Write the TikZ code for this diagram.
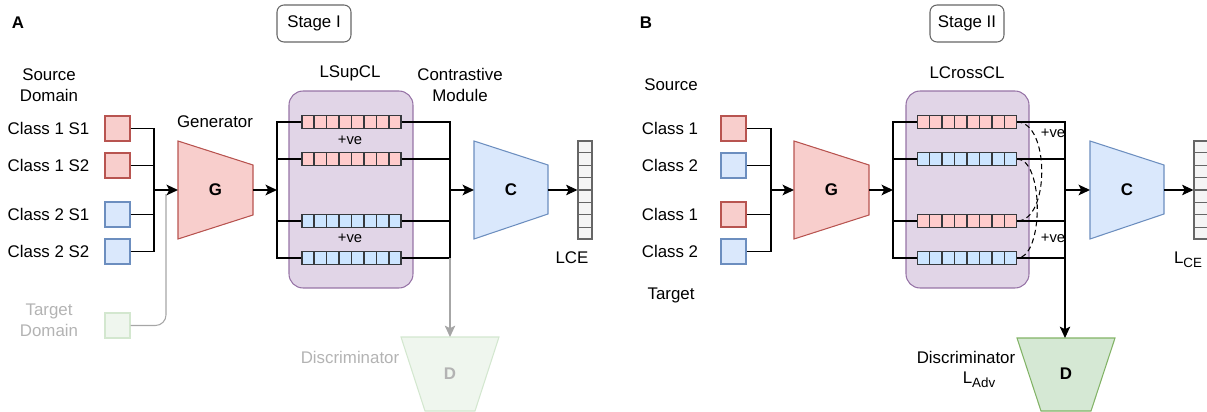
\documentclass[tikz,border=0pt]{standalone}
\usepackage{fontspec}
\setmainfont{Liberation Sans}
\usetikzlibrary{arrows.meta,calc,positioning}

\definecolor{fillred}{HTML}{F8CECC}
\definecolor{linered}{HTML}{B85450}
\definecolor{fillblue}{HTML}{DAE8FC}
\definecolor{lineblue}{HTML}{6C8EBF}
\definecolor{fillgreen}{HTML}{D5E8D4}
\definecolor{linegreen}{HTML}{82B366}
\definecolor{fillpale}{HTML}{EFF6EE}
\definecolor{linepale}{HTML}{D3E7CF}
\definecolor{fillpurple}{HTML}{E1D5E7}
\definecolor{linepurple}{HTML}{9673A6}
\definecolor{cellred}{HTML}{FFCCCC}
\definecolor{cellblue}{HTML}{CCE5FF}
\definecolor{celledge}{HTML}{36393D}
\definecolor{outfill}{HTML}{F5F5F5}
\definecolor{outline}{HTML}{666666}
\definecolor{fadetext}{HTML}{B3B3B3}

\begin{document}
\begin{tikzpicture}
[x=0.02cm,y=-0.02cm,
 font=\fontsize{9.6}{12}\selectfont,
 lbl/.style={inner sep=0pt,align=center},
 faded/.style={lbl,text=fadetext},
 heading/.style={inner sep=0pt,font=\fontsize{9.6}{12}\selectfont\bfseries},
 stagebox/.style={draw=outline,rounded corners=4pt,line width=0.6pt,minimum width=1.48cm,minimum height=0.74cm,inner sep=0pt},
 clsbox/.style={draw,line width=0.6pt,minimum size=0.5cm,inner sep=0pt},
 clsfade/.style={clsbox,fill=fillpale,draw=linepale},
 memory/.style={draw=linepurple,fill=fillpurple,rounded corners=0.28cm,line width=0.6pt,minimum height=3.94cm,inner sep=0pt},
 vecbox/.style={draw=celledge,line width=0.6pt,minimum width=1.98cm,minimum height=0.25cm,inner sep=0pt},
 vecline/.style={draw=celledge,line width=0.6pt},
 outvec/.style={draw=outline,fill=outfill,line width=0.6pt,minimum width=0.28cm,minimum height=1.96cm,inner sep=0pt},
 posnote/.style={inner sep=0pt,font=\fontsize{8.4}{10}\selectfont},
 wire/.style={draw=black,line width=0.6pt},
 fadewire/.style={draw=black!35,line width=0.6pt},
 arr/.style={wire,line width=1.1pt,-{Stealth[length=6.5pt,width=6pt,inset=1.5pt]}},
 thinarr/.style={wire,-{Stealth[length=6.5pt,width=6pt,inset=1.5pt]}},
 fadearr/.style={fadewire,-{Stealth[length=6.5pt,width=6pt,inset=1.5pt]}},
 pair/.style={draw=black,line width=0.6pt,dash pattern=on 3pt off 2pt},
 genshape/.style={draw=linered,fill=fillred,line width=0.6pt},
 clsshape/.style={draw=lineblue,fill=fillblue,line width=0.6pt},
 disshape/.style={draw=linegreen,fill=fillgreen,line width=0.6pt},
 disfade/.style={draw=linepale,fill=fillpale,line width=0.6pt}]
\useasboundingbox (0,0) rectangle (1207,412);

%%%% stage I
\node[heading] (labA) at (18,23) {A};
\node[stagebox] (stA) at (314,23.5) {Stage I};
\node[lbl] (srcA) at (49,85) {Source\\Domain};
\foreach \n/\y/\t/\c in {1/128.5/Class 1 S1/red,2/165.5/Class 1 S2/red,3/214.5/Class 2 S1/blue,4/251.5/Class 2 S2/blue}{
  \node[lbl] (tA\n) at (48.5,\y) {\t};
  \node[clsbox,fill=fill\c,draw=line\c] (cA\n) at (117.5,\y) {};
}
\node[faded] (trgA) at (49,320) {Target\\Domain};
\node[clsfade] (cA5) at (117.5,325.5) {};

% generator
\draw[genshape] (178,141) -- (253,165) -- (253,215) -- (178,239) -- cycle;
\node[heading] (gA) at (215.5,190) {G};
\node[lbl] (genA) at (215,122) {Generator};
\coordinate (gAin) at (178,190);
\coordinate (gAout) at (253,190);
\coordinate (mA) at (154,190);
\coordinate (tinA) at (166,194);

% contrastive memory
\node[memory,minimum width=2.48cm] (memA) at (351,189.5) {};
\node[lbl] (lsup) at (350,73) {LSupCL};
\foreach \n/\y/\c in {1/122/red,2/159/red,3/221/blue,4/258/blue}{
  \node[vecbox,fill=cell\c] (vA\n) at (351.5,\y) {};
  \foreach \k in {1,...,7}
    \draw[vecline] ($(vA\n.south west)!\k/8!(vA\n.south east)$) -- ($(vA\n.north west)!\k/8!(vA\n.north east)$);
}
\node[posnote] (pA1) at (350,140) {+ve};
\node[posnote] (pA2) at (350,238) {+ve};
\node[lbl] (modA) at (460,85) {Contrastive\\Module};
\coordinate (sA) at (277,190);
\coordinate (jA) at (450,190);

% classifier
\draw[clsshape] (474,141) -- (548,165) -- (548,214) -- (474,239) -- cycle;
\node[heading] (cA) at (511,190) {C};
\coordinate (cAin) at (474,190);
\coordinate (cAout) at (548,190);
\node[outvec] (oA) at (585,190) {};
\foreach \k in {1,...,7}
  \draw[vecline,draw=outline] ($(oA.north west)!\k/8!(oA.south west)$) -- ($(oA.north east)!\k/8!(oA.south east)$);
\node[lbl] (lceA) at (572,258) {LCE};

% discriminator (unused here)
\draw[disfade] (401,337) -- (499,337) -- (475,411) -- (425,411) -- cycle;
\node[heading,text=fadetext] (dA) at (450,374) {D};
\node[faded] (disA) at (350,357) {Discriminator};
\coordinate (dAin) at (450,337);

\foreach \n in {1,...,4} \draw[wire] (cA\n.east) -| (mA);
\draw[fadewire,rounded corners=6pt] (cA5.east) -| (tinA);
\draw[arr] (mA) -- (gAin);
\draw[arr] (gAout) -- (sA);
\foreach \n in {1,...,4} \draw[wire] (sA) |- (vA\n.west);
\foreach \n in {1,...,4} \draw[wire] (vA\n.east) -| (jA);
\draw[arr] (jA) -- (cAin);
\draw[thinarr] (cAout) -- (oA.west);
\draw[fadearr] (jA |- vA4.east) -- (dAin);

%%%% stage II
\node[heading] (labB) at (646,23) {B};
\node[stagebox] (stB) at (967,23.5) {Stage II};
\node[lbl] (srcB) at (671,85) {Source};
\node[lbl] (trgB) at (671,295) {Target};
\foreach \n/\y/\t/\c in {1/128.5/Class 1/red,2/165.5/Class 2/blue,3/214.5/Class 1/red,4/251.5/Class 2/blue}{
  \node[lbl] (tB\n) at (670,\y) {\t};
  \node[clsbox,fill=fill\c,draw=line\c] (cB\n) at (733.5,\y) {};
}

% generator
\draw[genshape] (794,141) -- (869,165) -- (869,215) -- (794,239) -- cycle;
\node[heading] (gB) at (831.5,190) {G};
\coordinate (gBin) at (794,190);
\coordinate (gBout) at (869,190);
\coordinate (mB) at (771,190);

% cross-domain memory
\node[memory,minimum width=2.46cm] (memB) at (967.5,189.5) {};
\node[lbl] (lcross) at (967,73) {LCrossCL};
\foreach \n/\y/\c in {1/122/red,2/159/blue,3/221/red,4/258/blue}{
  \node[vecbox,fill=cell\c] (vB\n) at (967,\y) {};
  \foreach \k in {1,...,7}
    \draw[vecline] ($(vB\n.south west)!\k/8!(vB\n.south east)$) -- ($(vB\n.north west)!\k/8!(vB\n.north east)$);
}
\coordinate (sB) at (893,190);
\coordinate (jB) at (1065,190);

% classifier
\draw[clsshape] (1090,141) -- (1164,165) -- (1164,214) -- (1090,239) -- cycle;
\node[heading] (cB) at (1127,190) {C};
\coordinate (cBin) at (1090,190);
\coordinate (cBout) at (1164,190);
\node[outvec] (oB) at (1201,190) {};
\foreach \k in {1,...,7}
  \draw[vecline,draw=outline] ($(oB.north west)!\k/8!(oB.south west)$) -- ($(oB.north east)!\k/8!(oB.south east)$);
\node[lbl] (lceB) at (1188,260) {L\raisebox{-0.45ex}{\fontsize{7.6}{9}\selectfont CE}};

% discriminator
\draw[disshape] (1017,338) -- (1115,338) -- (1091,411) -- (1041,411) -- cycle;
\node[heading] (dB) at (1066,374) {D};
\node[lbl] (disB) at (966,357) {Discriminator};
\node[lbl] (ladv) at (979,380) {L\raisebox{-0.45ex}{\fontsize{7.6}{9}\selectfont Adv}};
\coordinate (dBin) at (1065,338);

\foreach \n in {1,...,4} \draw[wire] (cB\n.east) -| (mB);
\draw[arr] (mB) -- (gBin);
\draw[arr] (gBout) -- (sB);
\foreach \n in {1,...,4} \draw[wire] (sB) |- (vB\n.west);
\foreach \n in {1,...,4} \draw[wire] (vB\n.east) -| (jB);
\draw[arr] (jB) -- (cBin);
\draw[thinarr] (cBout) -- (oB.west);
\draw[thinarr] (jB |- vB4.east) -- (dBin);

% positive pairs across domains
\draw[pair] (vB1.east) .. controls +(33,0) and +(33,0) .. (vB3.east);
\draw[pair] (vB2.east) .. controls +(27,0) and +(27,0) .. (vB4.east);
\node[posnote] (pB1) at (1053,133) {+ve};
\node[posnote] (pB2) at (1053,238) {+ve};
\end{tikzpicture}
\end{document}
